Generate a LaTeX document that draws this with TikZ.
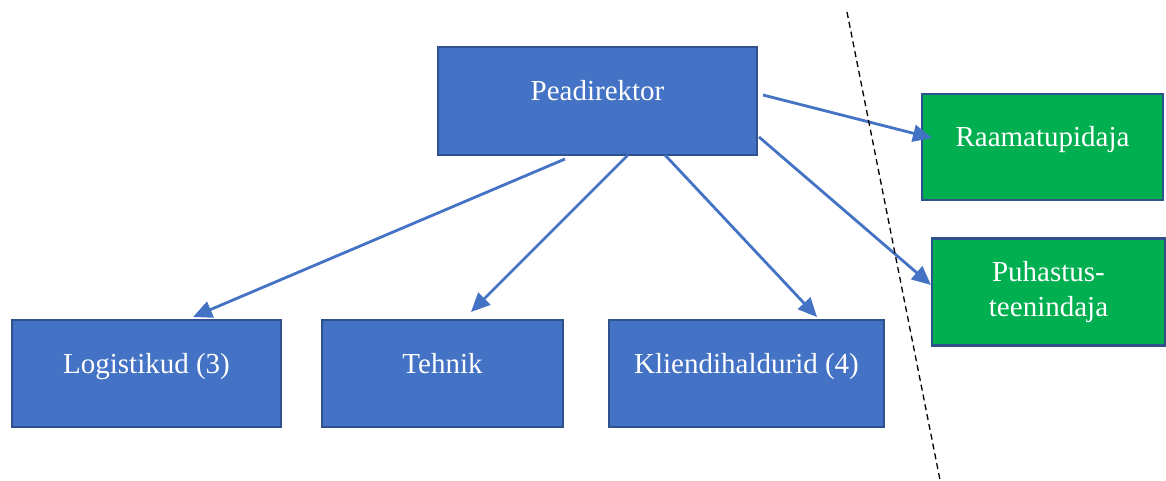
\documentclass[tikz,border=0pt]{standalone}
\usepackage{fontspec}
\setmainfont{Liberation Serif}
\usetikzlibrary{arrows.meta}
\definecolor{boxblue}{HTML}{4472C4}
\definecolor{boxedge}{HTML}{2F528F}
\definecolor{boxgreen}{HTML}{00B050}
\begin{document}
\begin{tikzpicture}[x=1pt,y=-1pt,
  basebox/.style={draw=boxedge, line width=2.5pt, inner sep=0pt, text=white,
    font=\fontsize{29}{35}\selectfont, align=center},
  bluebox/.style={basebox, fill=boxblue, text height=14pt, text depth=14pt},
  greenbox/.style={basebox, fill=boxgreen},
  link/.style={draw=boxblue, line width=2.8pt, -{Triangle[length=19pt,width=17pt]}}]
\useasboundingbox (0,0) rectangle (1166,481);
\node[bluebox, minimum width=319pt, minimum height=108pt] (pd) at (597.5,101) {Peadirektor};
\node[bluebox, minimum width=269pt, minimum height=107pt] (lo) at (146.5,373.5) {Logistikud (3)};
\node[bluebox, minimum width=241pt, minimum height=107pt] (te) at (442.5,373.5) {Tehnik};
\node[bluebox, minimum width=275pt, minimum height=107pt] (kl) at (746.5,373.5) {Kliendihaldurid (4)};
\node[greenbox, minimum width=241pt, minimum height=106pt, text height=14pt, text depth=14pt] (ra) at (1042.5,147) {Raamatupidaja};
\node[greenbox, minimum width=233pt, minimum height=107pt] (pu) at (1048.5,292) {Puhastus-\\teenindaja};
\coordinate (s1) at (565,159);
\coordinate (e1) at (193,317);
\coordinate (s2) at (628,155);
\coordinate (e2) at (471,312);
\coordinate (s3) at (665,155);
\coordinate (e3) at (817,317);
\coordinate (s4) at (763,95);
\coordinate (e4) at (932,138);
\coordinate (s5) at (759,137);
\coordinate (e5) at (931,285);
\coordinate (d1) at (847,12);
\coordinate (d2) at (940,480);
\draw[link] (s1) -- (e1);
\draw[link] (s2) -- (e2);
\draw[link] (s3) -- (e3);
\draw[link] (s4) -- (e4);
\draw[link] (s5) -- (e5);
\draw[line width=1.3pt, dash pattern=on 6pt off 4pt] (d1) -- (d2);
\end{tikzpicture}
\end{document}
